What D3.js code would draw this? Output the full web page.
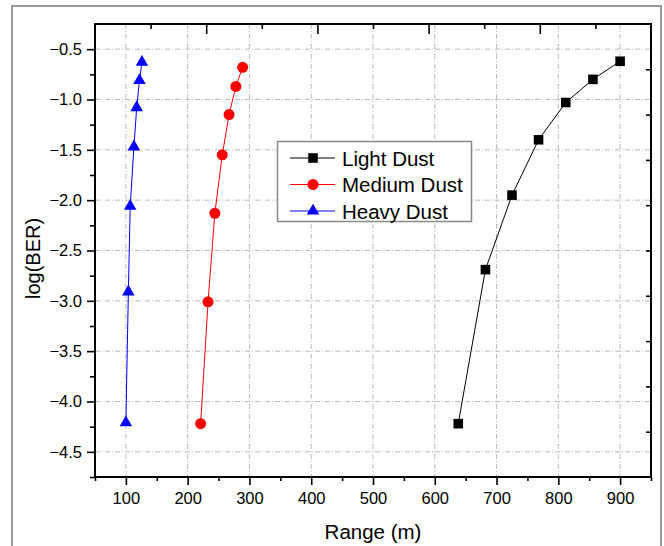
<!DOCTYPE html>
<html>
<head>
<meta charset="utf-8">
<script src="https://cdn.jsdelivr.net/npm/d3@7"></script>
<style>
  html, body { margin: 0; padding: 0; background: #fff; }
  svg { display: block; font-family: "Liberation Sans", Arial, sans-serif; }
</style>
</head>
<body>
<svg id="chart" width="664" height="546"></svg>
<script>
// ---- data ----
const lightX  = [638, 682, 725, 768, 812, 856, 900];
const lightY  = [-4.22, -2.69, -1.95, -1.40, -1.03, -0.80, -0.62];
const mediumX = [221, 233, 244, 256, 267, 278, 289];
const mediumY = [-4.22, -3.01, -2.13, -1.55, -1.15, -0.87, -0.68];
const heavyX  = [100, 104, 107, 113, 117.5, 122, 126];
const heavyY  = [-4.21, -2.91, -2.06, -1.47, -1.08, -0.81, -0.63];
const seriesNames = ["Light Dust", "Medium Dust", "Heavy Dust"];
const xTicks = [100, 200, 300, 400, 500, 600, 700, 800, 900];
const xMinor = [50, 150, 250, 350, 450, 550, 650, 750, 850, 950];
const yTicks = [-0.5, -1.0, -1.5, -2.0, -2.5, -3.0, -3.5, -4.0, -4.5];
const yMinor = [-0.75, -1.25, -1.75, -2.25, -2.75, -3.25, -3.75, -4.25, -4.75];
const xTitle = "Range (m)";
const yTitle = "log(BER)";

const svg = d3.select("#chart");
const L = 95, R = 651, T = 24, B = 477;

const x = d3.scaleLinear().domain([50, 950]).range([L, R]);
const y = d3.scaleLinear().domain([-0.25, -4.75]).range([T, B]);
// secondary (top/right) frame tick scales
const xTop = d3.scaleLinear().domain([0, 10]).range([L, R]);
const yRight = d3.scaleLinear().domain([0, 10]).range([T, B]);

// outer figure border
svg.append("rect").attr("x", 12).attr("y", 6).attr("width", 649).attr("height", 570)
  .attr("fill", "none").attr("stroke", "#9a9a9a").attr("stroke-width", 2);

// grid
const grid = svg.append("g").attr("stroke", "#b4b4b4").attr("stroke-width", 0.9)
  .attr("stroke-dasharray", "5,2,1,2").attr("fill", "none");
grid.selectAll(".gx").data(xTicks).join("line")
  .attr("x1", d => x(d)).attr("x2", d => x(d)).attr("y1", T).attr("y2", B);
grid.selectAll(".gy").data(yTicks).join("line")
  .attr("y1", d => y(d)).attr("y2", d => y(d)).attr("x1", L).attr("x2", R);

function styleAxis(g) {
  g.select(".domain").remove();
  g.selectAll(".tick line").attr("stroke", "#000").attr("stroke-width", 1.6);
  g.selectAll(".tick text").attr("fill", "#000").style("font-size", "16.5px")
    .style("font-family", "'Liberation Sans', Arial, sans-serif");
}

// left axis
svg.append("g").attr("transform", `translate(${L},0)`)
  .call(d3.axisLeft(y).tickValues(yTicks).tickSize(8).tickPadding(5).tickFormat(d3.format(".1f")))
  .call(styleAxis);
svg.append("g").attr("transform", `translate(${L},0)`)
  .call(d3.axisLeft(y).tickValues(yMinor).tickSize(5).tickFormat(""))
  .call(styleAxis);
// bottom axis
svg.append("g").attr("transform", `translate(0,${B})`)
  .call(d3.axisBottom(x).tickValues(xTicks).tickSize(8).tickPadding(7).tickFormat(d3.format("d")))
  .call(styleAxis);
svg.append("g").attr("transform", `translate(0,${B})`)
  .call(d3.axisBottom(x).tickValues(xMinor).tickSize(4).tickFormat(""))
  .call(styleAxis);
// top axis (inward)
svg.append("g").attr("transform", `translate(0,${T})`)
  .call(d3.axisBottom(xTop).tickValues([1, 3, 5, 7, 9]).tickSize(5).tickFormat(""))
  .call(styleAxis);
svg.append("g").attr("transform", `translate(0,${T})`)
  .call(d3.axisBottom(xTop).tickValues([2, 4, 6, 8]).tickSize(10).tickFormat(""))
  .call(styleAxis);
// right axis (inward)
svg.append("g").attr("transform", `translate(${R},0)`)
  .call(d3.axisLeft(yRight).tickValues([1, 2, 3, 4, 5, 6, 7, 8, 9]).tickSize(5).tickFormat(""))
  .call(styleAxis);

// frame
svg.append("rect").attr("x", L).attr("y", T).attr("width", R - L).attr("height", B - T)
  .attr("fill", "none").attr("stroke", "#000").attr("stroke-width", 2);

// axis titles
svg.append("text").attr("x", (L + R) / 2).attr("y", 539).attr("text-anchor", "middle")
  .style("font-size", "20.5px").attr("fill", "#000").text(xTitle);
svg.append("text").attr("transform", `translate(40,${(T + B) / 2 + 8}) rotate(-90)`)
  .attr("text-anchor", "middle").style("font-size", "20px").attr("fill", "#000").text(yTitle);

// series
const series = [
  { name: seriesNames[0], xs: lightX, ys: lightY, color: "#000000", sym: d3.symbolSquare, size: 92 },
  { name: seriesNames[1], xs: mediumX, ys: mediumY, color: "#ff0000", sym: d3.symbolCircle, size: 95 },
  { name: seriesNames[2], xs: heavyX, ys: heavyY, color: "#0000ff", sym: d3.symbolTriangle, size: 68 }
];
const line = d3.line().x(d => x(d[0])).y(d => y(d[1]));
series.forEach(s => {
  const pts = s.xs.map((v, i) => [v, s.ys[i]]);
  svg.append("path").datum(pts).attr("d", line).attr("fill", "none")
    .attr("stroke", s.color).attr("stroke-width", 1);
  svg.append("g").selectAll("path").data(pts).join("path")
    .attr("transform", d => `translate(${x(d[0])},${y(d[1])})`)
    .attr("d", d3.symbol().type(s.sym).size(s.size)).attr("fill", s.color);
});

// legend
const lg = svg.append("g");
lg.append("rect").attr("x", 277.5).attr("y", 141.5).attr("width", 194).attr("height", 80)
  .attr("fill", "#fff").attr("stroke", "#8a8a8a").attr("stroke-width", 1.5);
series.forEach((s, i) => {
  const cy = 158 + i * 26.5;
  lg.append("line").attr("x1", 290).attr("x2", 335).attr("y1", cy).attr("y2", cy)
    .attr("stroke", s.color).attr("stroke-width", 1);
  lg.append("path").attr("transform", `translate(313,${cy})`)
    .attr("d", d3.symbol().type(s.sym).size(s.size)).attr("fill", s.color);
  lg.append("text").attr("x", 342).attr("y", cy + 7.5).style("font-size", "20.5px")
    .attr("fill", "#000").text(s.name);
});
</script>
</body>
</html>
